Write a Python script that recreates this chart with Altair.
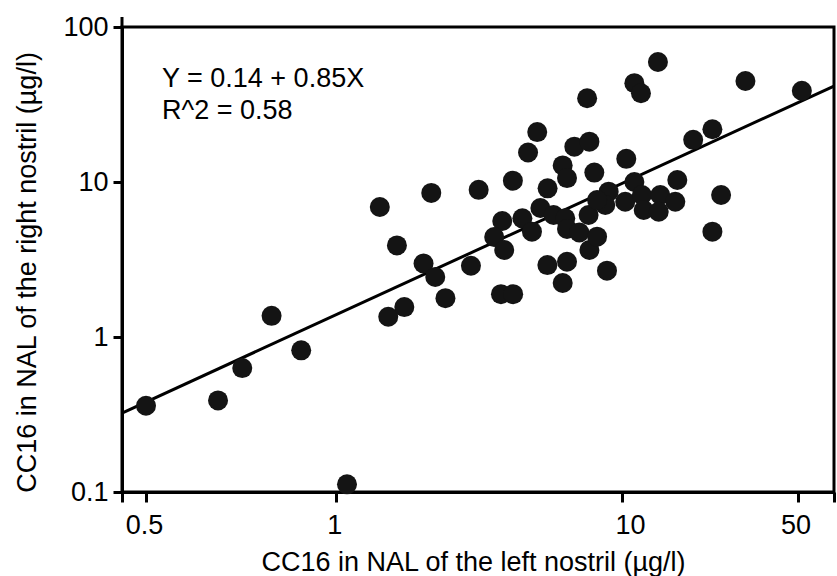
import altair as alt
import pandas as pd

# --- data ---
left_nostril = [0.50, 0.65, 0.71, 0.79, 0.88, 1.09, 1.52, 1.73, 1.42, 1.63,
                2.02, 2.22, 2.15, 2.41, 2.96, 3.15, 3.77, 4.16, 3.81, 3.57,
                3.87, 4.15, 4.48, 4.84, 4.69, 5.05, 5.49, 5.18, 5.76, 6.33,
                6.42, 5.48, 6.42, 6.20, 6.20, 6.42, 6.81, 7.69, 7.55, 7.09,
                7.64, 7.69, 8.18, 8.00, 8.86, 10.4, 11.2, 11.9, 13.9, 8.98,
                8.74, 10.3, 11.2, 12.0, 12.2, 14.2, 14.0, 16.3, 16.6, 19.2,
                22.9, 24.8, 22.9, 31.0, 52.0, 8.18]
right_nostril = [0.36, 0.39, 0.63, 1.37, 0.82, 0.112, 1.35, 1.56, 6.9, 3.9,
                 2.98, 2.44, 8.5, 1.78, 2.88, 8.9, 1.89, 1.89, 5.6, 4.42,
                 3.64, 10.2, 5.83, 4.78, 15.5, 21.0, 9.1, 6.8, 6.12, 5.83,
                 4.98, 2.91, 3.06, 2.23, 12.8, 10.6, 16.9, 18.2, 34.7, 4.72,
                 6.12, 3.64, 4.44, 11.5, 2.68, 14.1, 43.4, 37.4, 59.5, 8.66,
                 7.11, 7.46, 10.0, 8.25, 6.6, 8.25, 6.43, 7.46, 10.3, 18.7,
                 21.9, 8.25, 4.78, 44.8, 38.8, 7.65]
fit_x = [0.458, 70.0]
fit_y = [0.323, 41.6]
annotation = ["Y = 0.14 + 0.85X", "R^2 = 0.58"]
x_ticks = [0.458, 0.5, 1, 10, 50, 70.0]
x_labelled = [0.5, 1, 10, 50]
y_ticks = [0.1, 1, 10, 100]
x_title = "CC16 in NAL of the left nostril (µg/l)"
y_title = "CC16 in NAL of the right nostril (µg/l)"

FONT = "Liberation Sans"
W, H = 712, 465

points = pd.DataFrame({"left": left_nostril, "right": right_nostril})
fit = pd.DataFrame({"left": fit_x, "right": fit_y})
notes = pd.DataFrame({"label": ["\n".join(annotation)]})

x_scale = alt.Scale(type="log", domain=x_ticks, range=[0, 24, 214.3, 500, 675.6, W], nice=False)
y_scale = alt.Scale(type="log", domain=[0.1, 100], nice=False)

x_axis = alt.Axis(
    values=x_ticks,
    labelExpr="indexof(" + str(x_labelled) + ", datum.value) >= 0 ? format(datum.value, '~g') : ''",
    tickSize=10, labelPadding=10, grid=False,
    labelOffset={"condition": {"test": "datum.value == 10", "value": 8}, "value": -2},
    title=x_title, titleX=351, titleY=78, titleBaseline="alphabetic",
)
y_axis = alt.Axis(
    values=y_ticks, format="~g", tickSize=9, labelPadding=5, grid=False,
    title=y_title, titleX=-87, titleY=245, titleBaseline="alphabetic", titleAngle=270,
)

line = alt.Chart(fit).mark_line(color="black", strokeWidth=3).encode(
    x=alt.X("left:Q", scale=x_scale, axis=x_axis),
    y=alt.Y("right:Q", scale=y_scale, axis=y_axis),
)

dots = alt.Chart(points).mark_circle(size=400, color="#141414", opacity=1).encode(
    x=alt.X("left:Q", scale=x_scale, axis=x_axis),
    y=alt.Y("right:Q", scale=y_scale, axis=y_axis),
)

text = alt.Chart(notes).mark_text(
    align="left", baseline="alphabetic", lineBreak="\n", lineHeight=31.5,
    font=FONT, fontSize=27, color="black",
).encode(text="label:N", x=alt.value(40), y=alt.value(60))

corner = alt.Chart(pd.DataFrame({"k": [0]})).mark_rule(color="black", strokeWidth=3).encode(
    x=alt.value(0), y=alt.value(-10), y2=alt.value(0)
)

chart = alt.layer(line, dots, text, corner).properties(
    width=W, height=H,
    autosize=alt.AutoSizeParams(type="none"),
    padding={"left": 122, "top": 27, "right": 3, "bottom": 84},
    background="white",
).configure_view(
    stroke="black", strokeWidth=3,
).configure_axis(
    domainColor="black", domainWidth=3, tickColor="black", tickWidth=3,
    labelFont=FONT, labelFontSize=27, labelColor="black",
    titleFont=FONT, titleFontSize=27, titleFontWeight="normal", titleColor="black",
)

chart.save("out.html", embed_options={"renderer": "svg", "actions": False})
